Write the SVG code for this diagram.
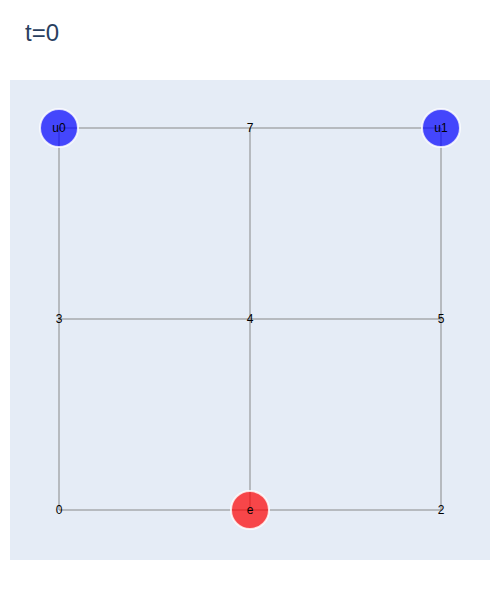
<svg xmlns="http://www.w3.org/2000/svg" width="500" height="600" viewBox="0 0 500 600">
<style>
.lbl{font-family:"Liberation Sans",Arial,sans-serif;font-size:12px;fill:#000;text-anchor:middle;dominant-baseline:central}
.edge{stroke:#888;stroke-opacity:0.5;stroke-width:2;fill:none}
.mk{stroke:#fff;stroke-width:2;stroke-opacity:0.8;fill-opacity:0.7}
</style>
<rect x="0" y="0" width="500" height="600" fill="#fff"/>
<rect x="10" y="80" width="480" height="480" fill="#e5ecf6"/>
<text x="25" y="41" font-family="'Liberation Sans',Arial,sans-serif" font-size="24" fill="#2a3f5f">t=0</text>
<g id="edges">
<line class="edge" x1="59" y1="510" x2="250" y2="510"/>
<line class="edge" x1="250" y1="510" x2="441" y2="510"/>
<line class="edge" x1="59" y1="319" x2="250" y2="319"/>
<line class="edge" x1="250" y1="319" x2="441" y2="319"/>
<line class="edge" x1="59" y1="128" x2="250" y2="128"/>
<line class="edge" x1="250" y1="128" x2="441" y2="128"/>
<line class="edge" x1="59" y1="510" x2="59" y2="319"/>
<line class="edge" x1="59" y1="319" x2="59" y2="128"/>
<line class="edge" x1="250" y1="510" x2="250" y2="319"/>
<line class="edge" x1="250" y1="319" x2="250" y2="128"/>
<line class="edge" x1="441" y1="510" x2="441" y2="319"/>
<line class="edge" x1="441" y1="319" x2="441" y2="128"/>
</g>
<g id="node-0"><text class="lbl" x="59" y="510">0</text></g>
<g id="node-e"><circle class="mk" cx="250" cy="510" r="19" fill="#ff0000"/><text class="lbl" x="250" y="510">e</text></g>
<g id="node-2"><text class="lbl" x="441" y="510">2</text></g>
<g id="node-3"><text class="lbl" x="59" y="319">3</text></g>
<g id="node-4"><text class="lbl" x="250" y="319">4</text></g>
<g id="node-5"><text class="lbl" x="441" y="319">5</text></g>
<g id="node-u0"><circle class="mk" cx="59" cy="128" r="19" fill="#0000ff"/><text class="lbl" x="59" y="128">u0</text></g>
<g id="node-7"><text class="lbl" x="250" y="128">7</text></g>
<g id="node-u1"><circle class="mk" cx="441" cy="128" r="19" fill="#0000ff"/><text class="lbl" x="441" y="128">u1</text></g>
</svg>
